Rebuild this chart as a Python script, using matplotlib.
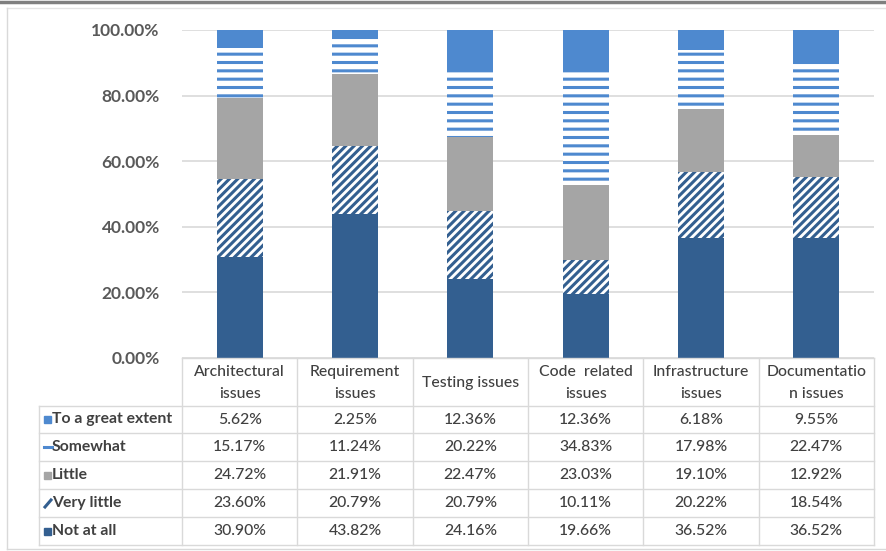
import matplotlib.pyplot as plt
import matplotlib.patches as mpatches
from matplotlib.lines import Line2D
import numpy as np

plt.rcParams['font.family'] = ['Lato', 'DejaVu Sans']
plt.rcParams['hatch.linewidth'] = 2.2

categories = ['Architectural\nissues', 'Requirement\nissues', 'Testing issues',
              'Code  related\nissues', 'Infrastructure\nissues', 'Documentatio\nn issues']
series = ['To a great extent', 'Somewhat', 'Little', 'Very little', 'Not at all']

great = [5.62, 2.25, 12.36, 12.36, 6.18, 9.55]
somewhat = [15.17, 11.24, 20.22, 34.83, 17.98, 22.47]
little = [24.72, 21.91, 22.47, 23.03, 19.10, 12.92]
very_little = [23.60, 20.79, 20.79, 10.11, 20.22, 18.54]
not_at_all = [30.90, 43.82, 24.16, 19.66, 36.52, 36.52]

W, H = 887, 551
fig = plt.figure(figsize=(W / 100, H / 100), dpi=100)

def fx(x):
    return x / W

def fy(y):
    return 1 - y / H

# plot area in pixels
x0, x1 = 182, 874
ytop, ybot = 30, 358
ax = fig.add_axes([fx(x0), fy(ybot), fx(x1) - fx(x0), fy(ytop) - fy(ybot)])

dark = '#335f90'
light = '#4e89cf'
grey = '#a5a5a5'

# bottom-up stacking order
stack = [(not_at_all, dict(color=dark)),
         (very_little, dict(facecolor='white', edgecolor=dark, hatch='////', linewidth=0)),
         (little, dict(color=grey)),
         (somewhat, dict(facecolor='white', edgecolor=light, hatch='--', linewidth=0)),
         (great, dict(color=light))]

xpos = np.arange(len(categories))
bottom = np.zeros(len(categories))
for vals, style in stack:
    v = np.array(vals) / 100
    ax.bar(xpos, v, width=0.4, bottom=bottom, zorder=2, **style)
    bottom += v

ax.set_xlim(-0.5, len(categories) - 0.5)
ax.set_ylim(0, 1)
ax.set_yticks(np.arange(0, 1.01, 0.2))
ax.yaxis.grid(True, color='#d9d9d9', linewidth=1.2, zorder=0)
ax.set_xticks([])
ax.tick_params(axis='y', length=0, pad=16)
ax.set_yticklabels(['{:.2f}%'.format(t * 100) for t in ax.get_yticks()],
                   fontsize=12.5, fontweight='bold', color='#595959')
for s in ax.spines.values():
    s.set_visible(False)

# data table under the chart
gridc = '#d9d9d9'
col_edges = np.linspace(x0, x1, len(categories) + 1)
row_edges = [406, 433, 461, 489, 517, 545]
tleft = 39

def hline(xa, xb, y, **kw):
    fig.add_artist(Line2D([fx(xa), fx(xb)], [fy(y), fy(y)], color=gridc, lw=1, **kw))

def vline(x, ya, yb, **kw):
    fig.add_artist(Line2D([fx(x), fx(x)], [fy(ya), fy(yb)], color=gridc, lw=1, **kw))

hline(x0, x1, ybot)
hline(tleft, x1, row_edges[0])
for y in row_edges[1:]:
    hline(tleft, x1, y)
for x in col_edges:
    vline(x, ybot, row_edges[-1])
vline(tleft, row_edges[0], row_edges[-1])

txtc = '#404040'
fs = 11.3
for i, cat in enumerate(categories):
    cx = (col_edges[i] + col_edges[i + 1]) / 2
    fig.text(fx(cx), fy((ybot + row_edges[0]) / 2 + 1), cat, ha='center', va='center',
             fontsize=fs, color=txtc, linespacing=1.65, fontweight='medium')

table_rows = [great, somewhat, little, very_little, not_at_all]
for r, (name, vals) in enumerate(zip(series, table_rows)):
    cy = (row_edges[r] + row_edges[r + 1]) / 2
    fig.text(fx(52), fy(cy), name, ha='left', va='center', fontsize=fs,
             fontweight='bold', color=txtc)
    for i, v in enumerate(vals):
        cx = (col_edges[i] + col_edges[i + 1]) / 2
        fig.text(fx(cx), fy(cy), '{:.2f}%'.format(v), ha='center', va='center',
                 fontsize=fs, color=txtc, fontweight='medium')

# legend keys in the row headers
def key_y(r):
    return (row_edges[r] + row_edges[r + 1]) / 2

for r, c in [(0, light), (2, grey), (4, dark)]:
    y = key_y(r)
    fig.add_artist(mpatches.Rectangle((fx(44), fy(y + 3.5)), fx(7), 7 / H, color=c))
y = key_y(1)
fig.add_artist(Line2D([fx(44), fx(52)], [fy(y), fy(y)], color=light, lw=2.2))
y = key_y(3)
fig.add_artist(Line2D([fx(45), fx(51)], [fy(y + 4), fy(y - 3)], color=dark, lw=2.2))

# outer frame
fig.add_artist(Line2D([0, 1], [fy(2), fy(2)], color='#7f7f7f', lw=2.5))
fig.add_artist(Line2D([fx(7), 1], [fy(8), fy(8)], color='#e3e3e3', lw=1))
fig.add_artist(Line2D([fx(7), fx(7)], [fy(8), fy(549)], color='#d9d9d9', lw=1))
fig.add_artist(Line2D([fx(7), 1], [fy(549), fy(549)], color='#d9d9d9', lw=1))

fig.savefig('out.png', dpi=100)
